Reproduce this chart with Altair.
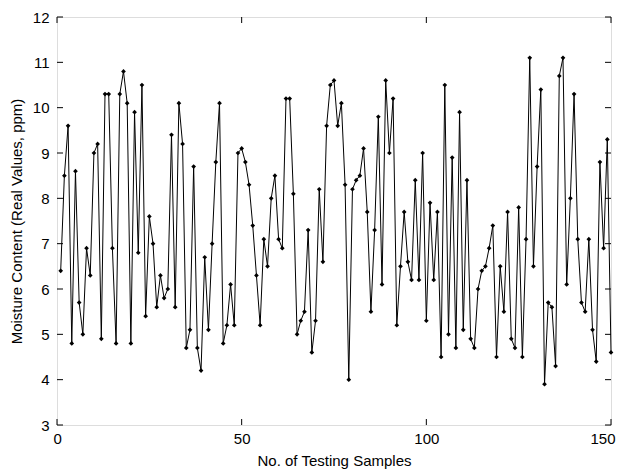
import altair as alt
import pandas as pd

samples = list(range(1, 151))
moisture = [
    6.4, 8.5, 9.6, 4.8, 8.6, 5.7, 5.0, 6.9, 6.3, 9.0,
    9.2, 4.9, 10.3, 10.3, 6.9, 4.8, 10.3, 10.8, 10.1, 4.8,
    9.9, 6.8, 10.5, 5.4, 7.6, 7.0, 5.6, 6.3, 5.8, 6.0,
    9.4, 5.6, 10.1, 9.2, 4.7, 5.1, 8.7, 4.7, 4.2, 6.7,
    5.1, 7.0, 8.8, 10.1, 4.8, 5.2, 6.1, 5.2, 9.0, 9.1,
    8.8, 8.3, 7.4, 6.3, 5.2, 7.1, 6.5, 8.0, 8.5, 7.1,
    6.9, 10.2, 10.2, 8.1, 5.0, 5.3, 5.5, 7.3, 4.6, 5.3,
    8.2, 6.6, 9.6, 10.5, 10.6, 9.6, 10.1, 8.3, 4.0, 8.2,
    8.4, 8.5, 9.1, 7.7, 5.5, 7.3, 9.8, 6.1, 10.6, 9.0,
    10.2, 5.2, 6.5, 7.7, 6.6, 6.2, 8.4, 6.2, 9.0, 5.3,
    7.9, 6.2, 7.7, 4.5, 10.5, 5.0, 8.9, 4.7, 9.9, 5.1,
    8.4, 4.9, 4.7, 6.0, 6.4, 6.5, 6.9, 7.4, 4.5, 6.5,
    5.5, 7.7, 4.9, 4.7, 7.8, 4.5, 7.1, 11.1, 6.5, 8.7,
    10.4, 3.9, 5.7, 5.6, 4.3, 10.7, 11.1, 6.1, 8.0, 10.3,
    7.1, 5.7, 5.5, 7.1, 5.1, 4.4, 8.8, 6.9, 9.3, 4.6,
]
x_ticks = [0, 50, 100, 150]
y_ticks = [3, 4, 5, 6, 7, 8, 9, 10, 11, 12]

W, H = 554, 408
FONT = "Liberation Sans"

df = pd.DataFrame({"sample": samples, "moisture": moisture})
xt = pd.DataFrame({"sample": x_ticks})
yt = pd.DataFrame({"moisture": y_ticks})

xs = alt.Scale(domain=[0, 150], nice=False, zero=False)
ys = alt.Scale(domain=[3, 12], nice=False, zero=False)

x_axis = alt.Axis(values=x_ticks, ticks=False, domain=False, grid=False,
                  labelFontSize=15, labelColor="black", labelFont=FONT,
                  labelPadding=6, labelFlush=True, labelFlushOffset=4,
                  title="No. of Testing Samples", titleFont=FONT,
                  titleFontSize=15, titleFontWeight="normal",
                  titleColor="black", titlePadding=7)
y_axis = alt.Axis(values=y_ticks, ticks=False, domain=False, grid=False,
                  labelFontSize=15, labelColor="black", labelFont=FONT,
                  labelPadding=8, labelFlush=False,
                  title="Moisture Content (Real Values, ppm)", titleFont=FONT,
                  titleFontSize=15, titleFontWeight="normal",
                  titleColor="black", titlePadding=8)

X = alt.X("sample:Q", scale=xs, axis=x_axis)
Y = alt.Y("moisture:Q", scale=ys, axis=y_axis)

line = alt.Chart(df).mark_line(color="black", strokeWidth=1).encode(x=X, y=Y)
pts = alt.Chart(df).mark_point(shape="diamond", filled=True, color="black",
                               size=22, opacity=1).encode(x=X, y=Y)

ytick_l = alt.Chart(yt).mark_rule(color="black", strokeWidth=1).encode(
    y=Y, x=alt.value(0), x2=alt.value(6))
ytick_r = alt.Chart(yt).mark_rule(color="black", strokeWidth=1).encode(
    y=Y, x=alt.value(W - 6), x2=alt.value(W))
xtick_b = alt.Chart(xt).mark_rule(color="black", strokeWidth=1).encode(
    x=X, y=alt.value(H - 6), y2=alt.value(H))
xtick_t = alt.Chart(xt).mark_rule(color="black", strokeWidth=1).encode(
    x=X, y=alt.value(0), y2=alt.value(6))

chart = alt.layer(line, pts, ytick_l, ytick_r, xtick_b, xtick_t).properties(
    width=W, height=H,
    autosize=alt.AutoSizeParams(type="none"),
    padding={"left": 49, "top": 9, "right": 5, "bottom": 46},
).configure_view(stroke="black", strokeWidth=1.5).configure(background="white")

chart.save("out.html", embed_options={"renderer": "svg", "actions": False})
